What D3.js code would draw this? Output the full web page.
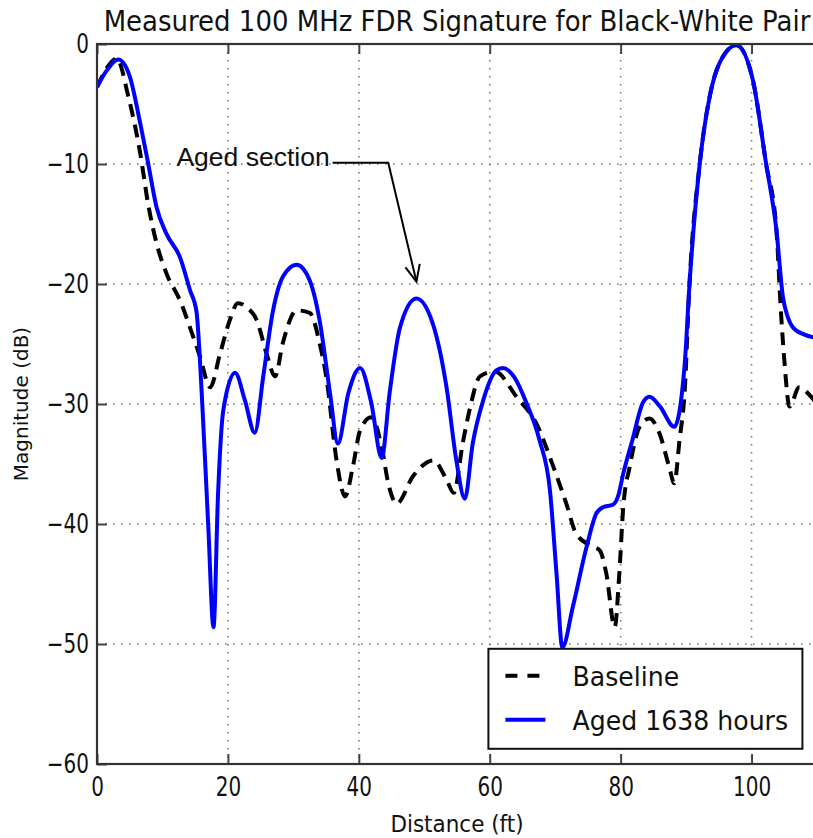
<!DOCTYPE html>
<html>
<head>
<meta charset="utf-8">
<script src="https://cdn.jsdelivr.net/npm/d3@7"></script>
<style>
  body { margin: 0; background: #fff; }
  svg text { font-family: "DejaVu Sans", sans-serif; fill: #111; }
</style>
</head>
<body>
<svg id="chart" width="813" height="838"></svg>
<script>
// values
const distAged = [0, 1.5, 3.25, 5, 6.6, 7.8, 9.1, 10.6, 12.7, 14.2, 15.2, 16, 17, 17.8, 18.5, 19.3, 21.1, 22.6, 24.1, 25.4, 26.9, 28.4, 30.5, 32.5, 34, 35.6, 36.8, 38.4, 40.2, 41.9, 43.5, 44.7, 46.3, 48.8, 51.3, 53.4, 54.9, 56.2, 57.4, 59, 61, 62, 63.8, 65.6, 67.6, 69.2, 70.2, 71.1, 72.7, 74.8, 76.3, 77.3, 78.8, 79.6, 80.4, 81.8, 83.4, 84.4, 86, 88.2, 89.8, 90.5, 92.1, 93.6, 95.1, 97.7, 100.2, 102.2, 103.8, 104.8, 105.5, 106.3, 108, 110];
const magAged = [-3.6, -2.2, -1.3, -2.7, -6.6, -9.9, -13.6, -15.8, -17.8, -20.5, -22.3, -29.1, -40.2, -48.6, -37.4, -30.5, -27.4, -29.7, -32.4, -27.7, -22.2, -19.4, -18.4, -19.7, -23, -29.1, -33.3, -29.1, -27, -29.9, -34.5, -29.1, -23.6, -21.2, -23.3, -28.6, -34.7, -37.9, -33.3, -29.7, -27.2, -27.0, -27.8, -29.9, -33, -37.2, -44.1, -50.3, -46.9, -41.9, -39.1, -38.6, -38.4, -37.7, -35.8, -33, -29.9, -29.4, -30.2, -31.9, -26.6, -20.2, -9.9, -4.4, -1.6, -0.1, -3, -9.9, -15.5, -21.1, -22.7, -23.6, -24.2, -24.5];

const distBase = [0, 1.5, 3.0, 4.8, 6.6, 7.8, 9.1, 10.6, 12.7, 14.7, 15.7, 17.3, 18.8, 20.3, 21.5, 23, 24.4, 25.9, 27.2, 28.4, 30.5, 32.5, 34, 35.1, 36.6, 37.9, 39.1, 40.2, 41.9, 43.5, 44.5, 45.8, 48.3, 51.4, 53.4, 54.5, 55.9, 57, 58.5, 60.8, 64.1, 67.1, 69.7, 71.7, 73.2, 75.8, 76.8, 77.8, 79.1, 79.8, 80.4, 81.4, 82.9, 84.4, 85.9, 87.4, 88.2, 89, 89.8, 90.5, 92.1, 93.6, 95.1, 97.7, 100.2, 102.2, 103.8, 104.5, 105, 105.8, 107.3, 108.6, 110];
const magBase = [-3.6, -2.0, -1.2, -4.4, -9.1, -13.3, -16.6, -19.1, -21.4, -24.4, -26.0, -28.6, -25.8, -23, -21.6, -22.0, -23, -25.8, -27.7, -24.9, -22.2, -22.4, -24.9, -28, -34.7, -37.7, -35.2, -32.2, -31.1, -33.6, -36.6, -38.3, -36, -34.7, -36.3, -37.4, -33.2, -30.3, -27.7, -27.3, -29.4, -31.6, -35.2, -38.3, -40.8, -41.9, -42.2, -44.1, -48.6, -44.1, -38.6, -35.2, -31.9, -31.2, -32.4, -35.2, -36.6, -33, -28.8, -20.2, -9.9, -4.4, -1.6, -0.1, -3, -9.9, -15.5, -22.4, -26.3, -30.2, -28.6, -29.1, -30];

const xTicks = [0, 20, 40, 60, 80, 100];
const yTicks = [0, -10, -20, -30, -40, -50, -60];
const seriesNames = ["Baseline", "Aged 1638 hours"];
const annotation = { text: "Aged section", textAt: [36, -9.9], corner: [44.5, -9.9], tip: [48.8, -19.8] };

const svg = d3.select("#chart");
const margin = {top: 44, right: -4, bottom: 74, left: 97};
const width = +svg.attr("width") - margin.left - margin.right;
const height = +svg.attr("height") - margin.top - margin.bottom;

const x = d3.scaleLinear().domain([0, 110]).range([0, width]);
const y = d3.scaleLinear().domain([-60, 0]).range([height, 0]);

const g = svg.append("g").attr("transform", `translate(${margin.left},${margin.top})`);

svg.append("defs").append("clipPath").attr("id", "clip")
  .append("rect").attr("width", width).attr("height", height);

// the reference text is a little taller than the font, so stretch it
function tallText(parent, px, py, k, size, str) {
  return parent.append("text")
    .attr("transform", `translate(${px},${py}) scale(1,${k})`)
    .style("font-size", size + "px")
    .text(str);
}

// dotted grid
g.append("g").selectAll("line").data(xTicks.slice(1)).join("line")
  .attr("x1", d => x(d)).attr("x2", d => x(d)).attr("y1", 0).attr("y2", height)
  .attr("stroke", "#777").attr("stroke-width", 1.6).attr("stroke-dasharray", "1.6,6.4");
g.append("g").selectAll("line").data(yTicks.slice(1, -1)).join("line")
  .attr("y1", d => y(d)).attr("y2", d => y(d)).attr("x1", 0).attr("x2", width)
  .attr("stroke", "#777").attr("stroke-width", 1.6).attr("stroke-dasharray", "1.6,6.4");

// curves
const line = (xs, ys) => d3.line()
  .x(i => x(xs[i])).y(i => y(ys[i]))
  .curve(d3.curveMonotoneX)(d3.range(xs.length));

const plot = g.append("g").attr("clip-path", "url(#clip)");
plot.append("path").attr("d", line(distBase, magBase))
  .attr("fill", "none").attr("stroke", "#000").attr("stroke-width", 4)
  .attr("stroke-dasharray", "13,8");
plot.append("path").attr("d", line(distAged, magAged))
  .attr("fill", "none").attr("stroke", "#0000ff").attr("stroke-width", 4)
  .attr("stroke-linejoin", "round");

// axes with inward ticks
const xAxis = g.append("g").attr("transform", `translate(0,${height})`)
  .call(d3.axisBottom(x).tickValues(xTicks).tickSize(-10).tickFormat(d3.format("d")));
const xTop = g.append("g")
  .call(d3.axisTop(x).tickValues(xTicks).tickSize(-10).tickFormat(""));
const yAxis = g.append("g")
  .call(d3.axisLeft(y).tickValues(yTicks).tickSize(-10).tickFormat(d => d === 0 ? "0" : "\u2212" + Math.abs(d)));

[xAxis, xTop, yAxis].forEach(a => {
  a.select(".domain").remove();
  a.selectAll(".tick line").attr("stroke", "#444").attr("stroke-width", 2);
  a.selectAll(".tick text").style("font-size", "20px").attr("fill", "#111")
    .attr("y", 0).attr("dy", null);
});
xAxis.selectAll(".tick text").attr("transform", "translate(0,32) scale(1,1.35)");
yAxis.selectAll(".tick text").attr("x", -8).attr("transform", "translate(0,8) scale(1,1.3)");

g.append("rect").attr("width", width).attr("height", height)
  .attr("fill", "none").attr("stroke", "#333").attr("stroke-width", 2.2);

// titles
tallText(svg, margin.left + x(55), 31, 1.12, 26, "Measured 100 MHz FDR Signature for Black-White Pair")
  .attr("text-anchor", "middle");

tallText(svg, margin.left + x(55), 832, 1.1, 21.5, "Distance (ft)")
  .attr("text-anchor", "middle");

svg.append("text")
  .attr("transform", `translate(28,${margin.top + height / 2}) rotate(-90)`)
  .attr("text-anchor", "middle")
  .style("font-size", "20px")
  .text("Magnitude (dB)");

// annotation
g.append("text")
  .attr("x", x(annotation.textAt[0]) - 3).attr("y", y(annotation.textAt[1]) + 3)
  .attr("text-anchor", "end")
  .style("font-family", "'Liberation Sans', Arial, sans-serif")
  .style("font-size", "26.5px")
  .text(annotation.text);

const ann = g.append("g").attr("stroke", "#000").attr("stroke-width", 2).attr("fill", "none");
ann.append("polyline")
  .attr("points", [annotation.textAt, annotation.corner, annotation.tip].map(p => [x(p[0]), y(p[1])].join(",")).join(" "));
{
  const tx = x(annotation.tip[0]), ty = y(annotation.tip[1]);
  const cx = x(annotation.corner[0]), cy = y(annotation.corner[1]);
  const ang = Math.atan2(ty - cy, tx - cx);
  const len = 18, spread = 0.42;
  ann.append("polyline").attr("points", [
    [tx - len * Math.cos(ang - spread), ty - len * Math.sin(ang - spread)],
    [tx, ty],
    [tx - len * Math.cos(ang + spread), ty - len * Math.sin(ang + spread)]
  ].map(p => p.join(",")).join(" "));
}

// legend
const legend = g.append("g").attr("transform", `translate(${x(59.8)},${y(-50.4)})`);
legend.append("rect").attr("width", 314).attr("height", 100)
  .attr("fill", "#fff").attr("stroke", "#111").attr("stroke-width", 2);
const rows = legend.selectAll("g.row").data(seriesNames).join("g")
  .attr("transform", (d, i) => `translate(0,${27 + i * 44})`);
rows.append("line").attr("x1", 17).attr("x2", 57)
  .attr("stroke", (d, i) => i === 0 ? "#000" : "#0000ff")
  .attr("stroke-width", 4)
  .attr("stroke-dasharray", (d, i) => i === 0 ? "12,10" : null);
rows.each(function(d) {
  tallText(d3.select(this), 84, 10, 1.08, 25.2, d);
});
</script>
</body>
</html>
